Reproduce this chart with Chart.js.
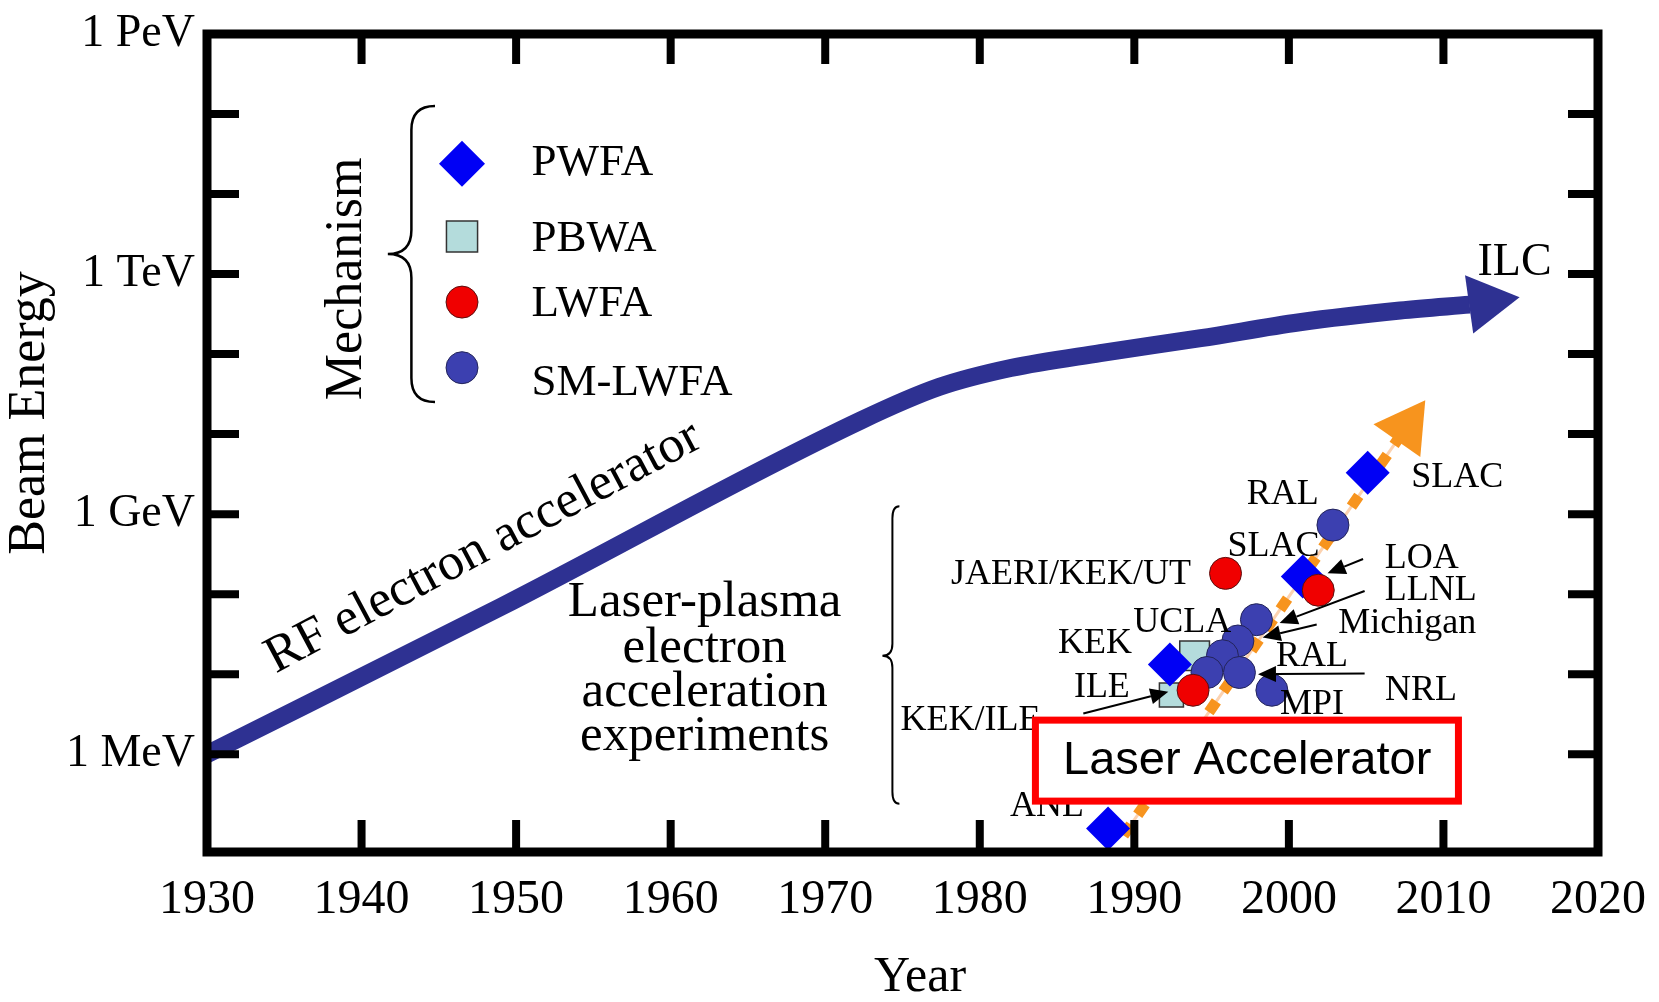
<!DOCTYPE html>
<html lang="en">
<head>
<meta charset="UTF-8">
<title>Beam Energy vs Year</title>
<style>
  html, body { margin: 0; padding: 0; background: #fff; }
  .wrap { width: 1659px; height: 1002px; position: relative; }
</style>
</head>
<body>
<div class="wrap"><canvas id="chart"></canvas></div>
<script src="https://cdn.jsdelivr.net/npm/chart.js@4"></script>
<script>
// axis ticks
const yearTicks = [1930, 1940, 1950, 1960, 1970, 1980, 1990, 2000, 2010, 2020];
const energyLabelValues = [1, 1e3, 1e6, 1e9];           // MeV
const energyLabels = ['1 MeV', '1 GeV', '1 TeV', '1 PeV'];
const energyDecades = [1, 10, 100, 1e3, 1e4, 1e5, 1e6, 1e7, 1e8];

// RF electron accelerator (energy in MeV)
const rfYears = [1930, 1949, 1972.3, 1977.4, 1982, 1987.8, 1994.3, 2000.7, 2007.2, 2011.7];
const rfEnergy = [1, 69, 14800, 39000, 67000, 103000, 158000, 250000, 350000, 415000];
const ilcYear = [2012.75];
const ilcEnergy = [447000];

// laser accelerator trend
const trendYears = [1989.3, 2007.6];
const trendEnergy = [0.097, 12200];

// experiments by mechanism
const pwfaYears = [1988.3, 1992.3, 2000.9, 2005.1];
const pwfaEnergy = [0.118, 13.2, 166, 3300];
const pbwaYears = [1993.9, 1992.4];
const pbwaEnergy = [17, 5.5];
const lwfaYears = [1995.9, 1993.8, 2001.9];
const lwfaEnergy = [182, 6.3, 112];
const smYears = [2002.85, 1997.9, 1996.7, 1995.7, 1994.7, 1996.8, 1998.9];
const smEnergy = [730, 48, 26, 17, 10.5, 10.5, 6.3];

const NAVY = '#2e3192';
const ORANGE = '#f7941e';
const SERIF = '"Liberation Serif", "Times New Roman", serif';

const pts = (xs, ys) => xs.map((v, i) => ({ x: v, y: ys[i] }));

// annotation placement, in [year, log10(MeV)]
const notes = [
  { t: 'RAL', at: [1999.6, 3.25] },
  { t: 'SLAC', at: [2010.9, 3.46] },
  { t: 'SLAC', at: [1999.0, 2.59] },
  { t: 'JAERI/KEK/UT', at: [1985.9, 2.25] },
  { t: 'LOA', at: [2006.2, 2.44], align: 'left' },
  { t: 'LLNL', at: [2006.2, 2.04], align: 'left' },
  { t: 'Michigan', at: [2003.2, 1.63], align: 'left' },
  { t: 'UCLA', at: [1993.1, 1.64] },
  { t: 'KEK', at: [1987.45, 1.38] },
  { t: 'RAL', at: [2001.5, 1.22] },
  { t: 'ILE', at: [1987.9, 0.83] },
  { t: 'NRL', at: [2008.55, 0.80] },
  { t: 'MPI', at: [2001.5, 0.62] },
  { t: 'KEK/ILE', at: [1979.4, 0.42] },
  { t: 'ANL', at: [1984.35, -0.65] },
  { t: 'ILC', at: [2014.6, 6.14], size: 46 }
];
const arrows = [
  [[2004.8, 2.44], [2002.5, 2.26]],
  [[2004.9, 2.04], [1999.4, 1.64]],
  [[2001.8, 1.62], [1998.3, 1.46]],
  [[2004.9, 1.01], [1998.0, 1.00]],
  [[1986.7, 0.51], [1992.2, 0.78]]
];
const plasmaText = ['Laser-plasma', 'electron', 'acceleration', 'experiments'];
const plasmaLines = [1.90, 1.32, 0.765, 0.22];

function P(chart, yr, lg) {
  return [chart.scales.x.getPixelForValue(yr), chart.scales.y.getPixelForValue(Math.pow(10, lg))];
}

function brace(ctx, xl, xm, xr, top, tip, bottom, r) {
  ctx.beginPath();
  ctx.moveTo(xr, top);
  ctx.quadraticCurveTo(xm, top, xm, top + r);
  ctx.lineTo(xm, tip - r);
  ctx.quadraticCurveTo(xm, tip, xl, tip);
  ctx.quadraticCurveTo(xm, tip, xm, tip + r);
  ctx.lineTo(xm, bottom - r);
  ctx.quadraticCurveTo(xm, bottom, xr, bottom);
  ctx.stroke();
}

function arrowLine(ctx, x1, y1, x2, y2) {
  const a = Math.atan2(y2 - y1, x2 - x1);
  const len = 18, hw = 8;
  ctx.beginPath();
  ctx.moveTo(x1, y1);
  ctx.lineTo(x2 - Math.cos(a) * len, y2 - Math.sin(a) * len);
  ctx.stroke();
  ctx.beginPath();
  ctx.moveTo(x2, y2);
  ctx.lineTo(x2 - Math.cos(a) * len - Math.sin(a) * hw, y2 - Math.sin(a) * len + Math.cos(a) * hw);
  ctx.lineTo(x2 - Math.cos(a) * len + Math.sin(a) * hw, y2 - Math.sin(a) * len - Math.cos(a) * hw);
  ctx.closePath();
  ctx.fill();
}

function marker(ctx, ds, x, y) {
  const r = ds.pointRadius;
  ctx.fillStyle = ds.backgroundColor;
  ctx.strokeStyle = ds.borderColor;
  ctx.lineWidth = ds.borderWidth || 1;
  ctx.beginPath();
  if (ds.pointStyle === 'rectRot') {
    ctx.moveTo(x - r, y); ctx.lineTo(x, y - r); ctx.lineTo(x + r, y); ctx.lineTo(x, y + r);
    ctx.closePath();
  } else if (ds.pointStyle === 'rect') {
    const s = r * Math.SQRT1_2;
    ctx.rect(x - s, y - s, 2 * s, 2 * s);
  } else {
    ctx.arc(x, y, r, 0, Math.PI * 2);
  }
  ctx.fill();
  if (ds.borderWidth) ctx.stroke();
}

const framePlugin = {
  id: 'frame',
  afterDatasetsDraw(chart) {
    const { ctx, chartArea: a, scales: { x, y } } = chart;
    ctx.save();
    ctx.strokeStyle = '#000';
    ctx.lineWidth = 9;
    ctx.strokeRect(a.left, a.top, a.right - a.left, a.bottom - a.top);
    ctx.lineWidth = 8;
    ctx.beginPath();
    yearTicks.forEach(v => {
      if (v <= x.min || v >= x.max) return;
      const px = x.getPixelForValue(v);
      ctx.moveTo(px, a.bottom); ctx.lineTo(px, a.bottom - 32);
      ctx.moveTo(px, a.top); ctx.lineTo(px, a.top + 30);
    });
    energyDecades.forEach(v => {
      const py = y.getPixelForValue(v);
      ctx.moveTo(a.left, py); ctx.lineTo(a.left + 32, py);
      ctx.moveTo(a.right, py); ctx.lineTo(a.right - 30, py);
    });
    ctx.stroke();
    ctx.restore();
  },
  afterDraw(chart) {
    const ctx = chart.ctx;
    ctx.save();
    ctx.fillStyle = '#000';
    ctx.strokeStyle = '#000';
    ctx.textBaseline = 'middle';

    // axis titles
    ctx.font = '52px ' + SERIF;
    ctx.textAlign = 'center';
    ctx.save();
    ctx.translate(30, 413);
    ctx.rotate(-Math.PI / 2);
    ctx.fillText('Beam Energy', 0, 0);
    ctx.restore();
    ctx.font = '50px ' + SERIF;
    ctx.fillText('Year', 920, 978);

    // legend
    const legendSets = [6, 5, 8, 7].map(i => chart.data.datasets[i]);
    const legMarkY = [7.38, 6.47, 5.65, 4.83];
    const legTextY = [7.38, 6.43, 5.62, 4.64];
    const legendR = [23, 22, 16, 16];
    legendSets.forEach((ds, i) => {
      const [mx, my] = P(chart, 1946.5, legMarkY[i]);
      marker(ctx, Object.assign({}, ds, { pointRadius: legendR[i] }), mx, my);
      const [tx, ty] = P(chart, 1951.0, legTextY[i]);
      ctx.fillStyle = '#000';
      ctx.font = '45px ' + SERIF;
      ctx.textAlign = 'left';
      ctx.fillText(ds.label, tx, ty);
    });
    ctx.strokeStyle = '#000';
    ctx.lineWidth = 2.5;
    {
      const [xl, top] = P(chart, 1941.7, 8.10);
      const [xr, tip] = P(chart, 1944.75, 6.25);
      const bottom = P(chart, 0, 4.40)[1];
      brace(ctx, xl, (xl + xr) / 2, xr, top, tip, bottom, 24);
      const [mx, my] = P(chart, 1939.1, 5.94);
      ctx.save();
      ctx.translate(mx, my);
      ctx.rotate(-Math.PI / 2);
      ctx.font = '52px ' + SERIF;
      ctx.textAlign = 'center';
      ctx.fillText('Mechanism', 0, 0);
      ctx.restore();
    }

    // laser-plasma group
    ctx.lineWidth = 2;
    {
      const [xl, top] = P(chart, 1973.7, 3.10);
      const [xr, tip] = P(chart, 1974.8, 1.23);
      const bottom = P(chart, 0, -0.62)[1];
      brace(ctx, xl, xl + 10, xr, top, tip, bottom, 12);
    }
    ctx.font = '51px ' + SERIF;
    ctx.textAlign = 'center';
    plasmaText.forEach((s, i) => {
      const [tx, ty] = P(chart, 1962.2, plasmaLines[i]);
      ctx.fillText(s, tx, ty);
    });

    // RF label along the line
    {
      const [tx, ty] = P(chart, 1948.3, 2.43);
      ctx.save();
      ctx.translate(tx, ty);
      ctx.rotate(-28 * Math.PI / 180);
      ctx.font = '52px ' + SERIF;
      ctx.textBaseline = 'alphabetic';
      ctx.fillText('RF electron accelerator', 0, 0);
      ctx.restore();
    }

    // experiment labels and arrows
    notes.forEach(n => {
      const [tx, ty] = P(chart, n.at[0], n.at[1]);
      ctx.font = (n.size || 36) + 'px ' + SERIF;
      ctx.textAlign = n.align || 'center';
      ctx.fillText(n.t, tx, ty);
    });
    ctx.lineWidth = 2;
    arrows.forEach(([f, t]) => {
      const [x1, y1] = P(chart, f[0], f[1]);
      const [x2, y2] = P(chart, t[0], t[1]);
      arrowLine(ctx, x1, y1, x2, y2);
    });

    // Laser Accelerator box
    {
      const [x1, y1] = P(chart, 1983.6, 0.426);
      const [x2, y2] = P(chart, 2010.97, -0.586);
      ctx.fillStyle = '#fff';
      ctx.fillRect(x1, y1, x2 - x1, y2 - y1);
      ctx.strokeStyle = '#f00';
      ctx.lineWidth = 7;
      ctx.strokeRect(x1, y1, x2 - x1, y2 - y1);
      const [tx, ty] = P(chart, 1997.3, -0.086);
      ctx.fillStyle = '#000';
      ctx.font = '47px "Liberation Sans", Arial, sans-serif';
      ctx.textAlign = 'center';
      ctx.fillText('Laser Accelerator', tx, ty);
    }
    ctx.restore();
  }
};

Chart.defaults.font.family = SERIF;
Chart.defaults.color = '#000';

new Chart(document.getElementById('chart'), {
  type: 'scatter',
  data: {
    datasets: [
      { label: 'RF electron accelerator', data: pts(rfYears, rfEnergy), showLine: true,
        borderColor: NAVY, borderWidth: 18, pointRadius: 0, cubicInterpolationMode: 'monotone', order: 10 },
      { label: 'ILC', data: pts(ilcYear, ilcEnergy), pointStyle: 'triangle', rotation: 82,
        pointRadius: 34, backgroundColor: NAVY, borderColor: NAVY, borderWidth: 0, order: 9 },
      { label: 'trend', data: pts(trendYears, trendEnergy), showLine: true,
        borderColor: '#fcd2b0', borderWidth: 3, pointRadius: 0, order: 8 },
      { label: 'Laser accelerator trend', data: pts(trendYears, trendEnergy), showLine: true,
        borderColor: ORANGE, borderWidth: 11, borderDash: [13, 12], pointRadius: 0, order: 7 },
      { label: 'trend arrow', data: pts(trendYears.slice(1), trendEnergy.slice(1)), pointStyle: 'triangle', rotation: 35,
        pointRadius: 33, backgroundColor: ORANGE, borderColor: ORANGE, borderWidth: 0, order: 6 },
      { label: 'PBWA', data: pts(pbwaYears, pbwaEnergy), pointStyle: 'rect', pointRadius: [21, 17],
        backgroundColor: '#b4dcdc', borderColor: '#333', borderWidth: 1.5, order: 5 },
      { label: 'PWFA', data: pts(pwfaYears, pwfaEnergy), pointStyle: 'rectRot', pointRadius: 22,
        backgroundColor: '#0000f5', borderColor: '#0000f5', borderWidth: 0, order: 4 },
      { label: 'SM-LWFA', data: pts(smYears, smEnergy), pointStyle: 'circle', pointRadius: 16,
        backgroundColor: '#3c40b0', borderColor: '#23245a', borderWidth: 1, order: 3 },
      { label: 'LWFA', data: pts(lwfaYears, lwfaEnergy), pointStyle: 'circle', pointRadius: 16,
        backgroundColor: '#f00000', borderColor: '#5a1010', borderWidth: 1, order: 2 }
    ]
  },
  options: {
    responsive: true,
    maintainAspectRatio: false,
    animation: false,
    events: [],
    layout: { padding: { top: 24, right: 61, left: 0, bottom: 0 } },
    plugins: { legend: { display: false }, tooltip: { enabled: false } },
    scales: {
      x: {
        type: 'linear', min: 1930, max: 2020,
        afterBuildTicks: s => { s.ticks = yearTicks.map(v => ({ value: v })); },
        afterFit: s => { s.height = 150; s.paddingLeft = 0; s.paddingRight = 0; },
        ticks: { font: { size: 48 }, color: '#000', padding: 12, autoSkip: false, maxRotation: 0,
          callback: v => String(v) },
        grid: { display: false },
        border: { display: false }
      },
      y: {
        type: 'logarithmic', min: 0.06, max: 1e9,
        afterBuildTicks: s => { s.ticks = energyLabelValues.map(v => ({ value: v })); },
        afterFit: s => { s.width = 207; s.paddingTop = 0; s.paddingBottom = 0; },
        ticks: { font: { size: 46 }, color: '#000', padding: 4, autoSkip: false,
          callback: v => { const i = energyLabelValues.indexOf(v); return i >= 0 ? energyLabels[i] : ''; } },
        grid: { display: false },
        border: { display: false }
      }
    }
  },
  plugins: [framePlugin]
});
</script>
</body>
</html>
